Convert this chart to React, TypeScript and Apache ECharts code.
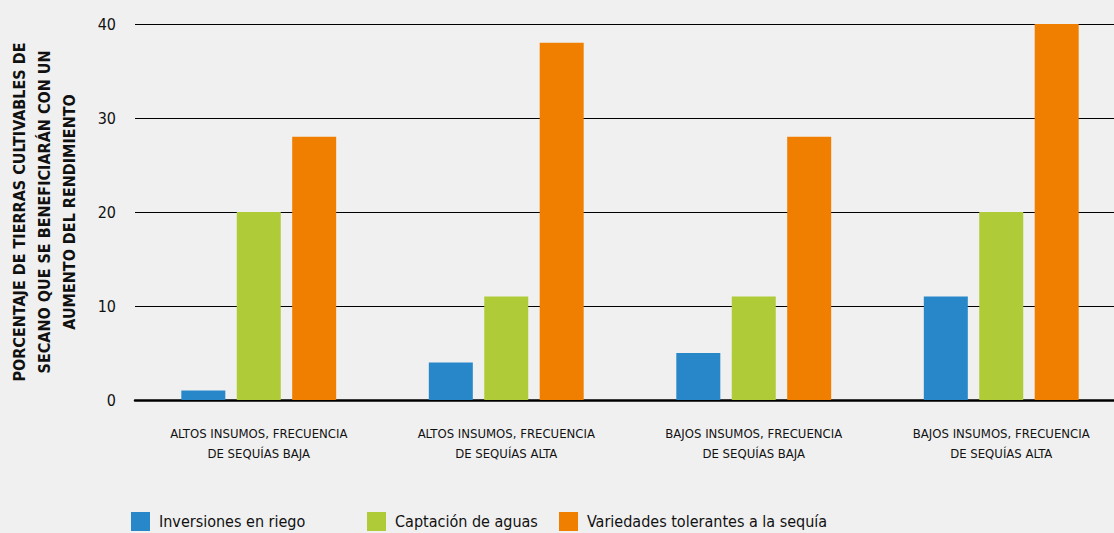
import React, { useEffect, useRef } from "react";
import * as echarts from "echarts";

const categories = [
  "ALTOS INSUMOS, FRECUENCIA\nDE SEQUÍAS BAJA",
  "ALTOS INSUMOS, FRECUENCIA\nDE SEQUÍAS ALTA",
  "BAJOS INSUMOS, FRECUENCIA\nDE SEQUÍAS BAJA",
  "BAJOS INSUMOS, FRECUENCIA\nDE SEQUÍAS ALTA",
];
const seriesNames = ["Inversiones en riego", "Captación de aguas", "Variedades tolerantes a la sequía"];
const riego = [1, 4, 5, 11];
const captacion = [20, 11, 11, 20];
const variedades = [28, 38, 28, 40];
const colors = ["#2787c9", "#b0cb38", "#f07f00"];
const yAxisName = "PORCENTAJE DE TIERRAS CULTIVABLES DE\nSECANO QUE SE BENEFICIARÁN CON UN\nAUMENTO DEL RENDIMIENTO";

const FONT = "'DejaVu Sans Condensed', 'Liberation Sans Narrow', sans-serif";

export default function App() {
  const ref = useRef<HTMLDivElement>(null);
  useEffect(() => {
    document.body.style.margin = "0";
    document.body.style.overflow = "hidden";
    const chart = echarts.init(ref.current!, undefined, { renderer: "svg", width: 1114, height: 533 });
    const data = [riego, captacion, variedades];
    const legendLefts = [131, 367, 559];
    chart.setOption({
      animation: false,
      backgroundColor: "#f0f0f0",
      textStyle: { fontFamily: FONT },
      grid: { left: 135, right: -11, top: 24, bottom: 133, containLabel: false, outerBoundsMode: "none" },
      legend: seriesNames.map((n, i) => ({
        data: [n],
        left: legendLefts[i],
        top: 512,
        itemWidth: 19,
        itemHeight: 19,
        itemGap: 10,
        icon: "rect",
        textStyle: { fontFamily: FONT, fontSize: 16, color: "#111", padding: [3, 0, 0, 4] },
        padding: 0,
      })),
      xAxis: {
        type: "category",
        data: categories,
        axisLine: { lineStyle: { color: "#000", width: 2.5 } },
        axisTick: { show: false },
        axisLabel: {
          interval: 0,
          fontFamily: FONT,
          fontSize: 13,
          color: "#111",
          lineHeight: 20,
          margin: 23,
        },
      },
      yAxis: {
        type: "value",
        min: 0,
        max: 40,
        interval: 10,
        name: yAxisName,
        nameLocation: "middle",
        nameRotate: 90,
        nameGap: 53,
        nameTextStyle: {
          fontFamily: FONT,
          fontSize: 16,
          fontWeight: "bold",
          color: "#111",
          lineHeight: 25,
          align: "center",
        },
        axisLine: { show: false },
        axisTick: { show: false },
        axisLabel: { fontFamily: FONT, fontSize: 16, color: "#111", margin: 19 },
        splitLine: { lineStyle: { color: "#000", width: 1 } },
      },
      series: seriesNames.map((n, i) => ({
        name: n,
        type: "bar",
        data: data[i],
        barWidth: 44,
        barGap: "26%",
        itemStyle: { color: colors[i] },
      })),
    });
    return () => chart.dispose();
  }, []);
  return <div ref={ref} style={{ position: "fixed", left: 0, top: 0, width: 1114, height: 533 }} />;
}
